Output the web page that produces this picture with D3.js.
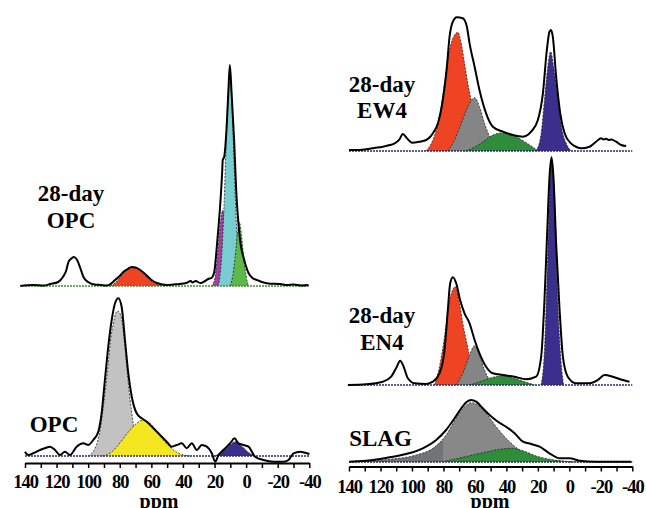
<!DOCTYPE html>
<html>
<head>
<meta charset="utf-8">
<script src="https://cdn.jsdelivr.net/npm/d3@7"></script>
<style>
  body { margin: 0; background: #fff; }
  svg text { font-family: "Liberation Serif", "Times New Roman", serif; font-weight: bold; fill: #000; }
</style>
</head>
<body>
<svg width="646" height="508"></svg>
<script>
// chemical shift ticks (ppm)
var ppmTicks = d3.range(140, -41, -10);

// ---- 28-day OPC : [ppm, intensity a.u.]
var opc28Spectrum = [[143,0],[135,1],[128,0.5],[124,2],[119,4],[116,9],[114,15],[112.5,24],[111,27],[109,29],[107,26],[105,18],
  [103,9],[100,4],[96,1.5],[92,1],[88,0.5],[85,3],[83,6],[80,10],[77.8,14],[75,17],[72.4,19],[70,18.5],[67,16],[64,12],
  [62,9],[59,5],[56.5,3],[53,1.5],[50,1],[46,1.5],[42,2],[38,3],[35,5],[34,3.5],[32,5],[29,3],[26,5],[24,7],[22,8],
  [20.3,13],[18.2,46],[16.5,79],[15.2,113],[14.8,126],[13.9,129],[12.2,163],[11.2,196],[10.3,221],[9.3,196],[7.6,146],
  [6.3,96],[4.9,63],[3.3,40],[1.7,29],[-1.5,13],[-4,8],[-6.8,6],[-10,4],[-14,2.5],[-21.5,2],[-26,1],[-30,1.5],[-35,0.5],[-39.5,1]];
var opc28Red = [[86,0],[83,3],[80,8],[77,14],[74.5,18],[72.4,19],[70,18],[67,15],[64,10.5],[61,6],[58,3],[55,1],[52,0]];
var opc28Magenta = [[22,0],[20,6],[18.5,25],[17,52],[15.5,72],[15,76],[14,70],[12.5,45],[11,20],[9.5,6],[8,0]];
var opc28Cyan = [[18,0],[16.9,6],[15.5,30],[14,80],[12.5,150],[11.3,195],[10.3,204],[9.3,192],[8.2,150],[7,95],[5.8,50],[4.5,20],[3,5],[1.5,0]];
var opc28Green = [[10.1,0],[8.5,10],[7,28],[5.5,52],[4.3,64],[3,52],[1.5,28],[0,10],[-1.5,0]];

// ---- unhydrated OPC
var opcSpectrum = [[140,4.3],[138,1],[134.8,2.7],[130.5,6],[127,8],[124.2,9.3],[121,6],[117.9,1],[114.7,4.3],[111.5,1],
  [107.3,9.3],[103.1,12.7],[99.9,11],[96.8,16],[93.6,24.3],[91.5,42.7],[89.4,76],[87.3,109],[85.1,136],[83,152.7],
  [80.9,157.7],[78.8,149],[76.7,116],[74.6,82.7],[72.4,59.3],[69.3,42.7],[66.1,37.7],[62.9,34.3],[58.7,27.7],[54.5,21],
  [50.3,14.3],[47.1,9.3],[43.9,11],[40.7,12.7],[37.6,7.7],[34.4,12.7],[31.2,6],[28.1,11],[24.9,9.3],[21.7,2.7],[19.6,-5.7],
  [17.5,1],[14.4,6],[10.1,12.7],[7.3,17.7],[4.9,12.7],[1.7,11],[-1.5,9.3],[-5.7,-0.7],[-11,-4],[-17.3,-5.7],[-23.6,-5.7],
  [-26.8,-4],[-30,2.7],[-34.2,4.3],[-37.4,3.3],[-40.1,2]];
var opcGray = [[100,0],[97,4],[94,15],[92,30],[90.4,49],[88.5,75],[87.3,93],[85.5,120],[84,133],[82.5,143],[81.3,145],
  [80,143],[78.8,137],[76.7,109],[74.6,73],[72.4,43],[70.5,22],[68.5,9],[66.5,3],[64,0]];
var opcYellow = [[91,0],[86,3],[82,9],[78,17],[73.5,26],[69.3,32.7],[65.1,36],[62,34],[58.7,29.3],[55.5,22],[52.4,16],
  [49,10],[46,6],[43,3],[39.7,1],[35.5,0]];
var opcBlue = [[19.6,0],[17,2.5],[14.4,5],[12,8.5],[10.1,11],[7,14.3],[5,13],[3.8,11],[1.5,8],[-0.4,5],[-3,2],[-5.7,0]];

// ---- 28-day EW4
var ew4Spectrum = [[140,1],[133,1],[129.1,1.7],[124,3],[118.5,4.3],[114,6],[111,7.7],[107.9,11.7],[105.8,17],[103.2,12.7],
  [99.9,8.3],[95.2,9.3],[91,11],[88.5,14],[86.7,17.7],[83.5,27.7],[80.4,51],[77.8,84.3],[76.1,114.3],[74,129.3],[71.5,133.7],
  [67.7,132.7],[65.1,124.3],[63.4,107.7],[60.2,84.3],[57.1,61],[52.9,37.7],[48.6,24.3],[42.2,19.3],[35.9,16],[29.5,14.3],
  [24.3,19.3],[20,31],[16.8,57.7],[14.3,101],[12.6,119.3],[11.6,121],[10.5,114.3],[8.4,74.3],[5.8,37.7],[3,17.7],[-1,7.7],
  [-4.5,4],[-7.5,2.7],[-12.8,4.3],[-17,9.3],[-20.2,12.7],[-21.8,11.5],[-23.4,12.2],[-25,11],[-26.6,11.5],[-29.7,9.3],
  [-32.9,6],[-36.1,5]];
var ew4Red = [[91,0],[86.7,11],[82.5,34.3],[79.3,67.7],[76.1,101],[72.9,116],[70.8,118.7],[68.7,107.7],[66.6,87.7],
  [64.5,67.7],[62.4,51],[59.2,31],[56,14.3],[52.9,4.3],[50.8,0]];
var ew4Gray = [[77.2,0],[72.9,11],[68.7,27.7],[64.5,44.3],[60.2,53.3],[57.1,44.3],[53.9,27.7],[50.7,14.3],[47.5,4.3],[44.3,0]];
var ew4Green = [[66,0],[60,4],[55,9],[48.6,16],[41.2,18.3],[33.8,14.3],[27.4,8.3],[22.1,2.7],[19.9,0]];
var ew4Blue = [[21.1,0],[17.9,17.7],[15.8,51],[13.7,84.3],[11.9,99.3],[10,84.3],[7.3,51],[4.6,21],[2,7.7],[-1.1,0]];

// ---- 28-day EN4
var en4Spectrum = [[140.7,0],[129.1,0.7],[118.5,3.3],[113.2,8.3],[109.6,18.3],[107.5,24.3],[105.3,18.3],[102.6,6.7],
  [98.3,1.7],[91,1],[86.7,3.3],[82.5,11.7],[79.3,35],[77.2,75],[75.7,101.7],[74,107.7],[71.9,101.7],[69.4,85],[66.6,71.7],
  [63.4,61.7],[60.2,45],[57.1,31.7],[52.9,18.3],[48.6,11.7],[42.2,10],[34.8,8.3],[27.4,5.7],[21.1,8.3],[17.9,28.3],
  [15.8,85],[14.1,151.7],[12.6,208.3],[11.3,227.7],[10,205],[8.4,141.7],[6.2,75],[4.1,28.3],[1,8.3],[-4.3,1.7],
  [-12.8,1.7],[-18.1,5],[-22.4,10],[-27.6,8.3],[-34,5],[-38.2,3.3]];
var en4Red = [[85.7,0],[82.5,18.3],[79.3,48.3],[76.1,85],[72.3,98.3],[69.8,81.7],[67.7,61.7],[65.1,41.7],[62.4,21.7],[59.2,5],[57.1,0]];
var en4Gray = [[71.9,0],[67.7,11.7],[63.4,30],[60.2,39.3],[57.1,30],[53.9,15],[50.7,5],[48.6,0]];
var en4Green = [[63.4,0],[55,4.3],[48.6,7.7],[42.2,9.3],[34.8,6.7],[27.4,2.7],[22.1,0]];
var en4Blue = [[17.9,0],[15.8,35],[14.3,101.7],[13,168.3],[11.9,215],[11.1,225],[10.3,215],[9,168.3],[7.8,101.7],[5.8,35],[3.7,0]];

// ---- SLAG
var slagSpectrum = [[139.7,0.3],[124.8,2],[114.2,4.7],[103.7,8],[93.1,13.7],[84.6,22],[78.3,32],[72.9,43.7],[68.7,53.7],
  [65.1,60.3],[62.4,62],[59.2,60.3],[55,53.7],[50.7,47],[45.4,40.3],[40.2,35.3],[34.8,28.7],[29.5,20.3],[24.3,18],
  [18.9,15.3],[12.6,8.7],[6.2,3.7],[-0.1,3.7],[-6.5,1.3],[-17,0.3],[-39.3,0.3]];
var slagGray = [[139.7,0.3],[114.2,2.7],[97.3,7],[86.7,13.7],[78.3,27],[71.9,43.7],[66.6,55.3],[62.4,59.3],[58.1,57],
  [52.9,48.7],[46.5,35.3],[40.2,23.7],[31.6,12],[23.2,5.3],[12.6,2],[-0.1,0.3],[-10,0]];
var slagGreen = [[80.4,0.3],[67.7,4.7],[55,9.3],[44.3,12.7],[37,13.7],[29.5,11.3],[21.1,6],[12.6,2.7],[4.1,1],[-2.2,0]];

var svg = d3.select("svg");

var xLeft = d3.scaleLinear().domain([140, -40]).range([25, 309.3]);
var xRight = d3.scaleLinear().domain([140, -40]).range([349, 632.3]);

// hard-edged gray for the slag fit (darker on the high-ppm side)
var grad = svg.append("defs").append("linearGradient")
    .attr("id", "slagGrad")
    .attr("gradientUnits", "userSpaceOnUse")
    .attr("x1", xRight(140)).attr("x2", xRight(-40))
    .attr("y1", 0).attr("y2", 0);
var cut = (xRight(80) - xRight(140)) / (xRight(-40) - xRight(140));
grad.append("stop").attr("offset", 0).attr("stop-color", "#6f7474");
grad.append("stop").attr("offset", cut).attr("stop-color", "#6f7474");
grad.append("stop").attr("offset", cut).attr("stop-color", "#888888");
grad.append("stop").attr("offset", 1).attr("stop-color", "#888888");

var panels = [
  {x: xLeft, base: 286, spectrum: opc28Spectrum, baseColor: "#3c8c3c",
   fits: [[opc28Red, "#ef4423"], [opc28Magenta, "#a0409f"], [opc28Cyan, "#78cdd0"], [opc28Green, "#5cb848"]],
   label: ["28-day", "OPC"], lx: 71, ly: [200.5, 228.3]},
  {x: xLeft, base: 456, spectrum: opcSpectrum, baseColor: "#2b2b6b",
   fits: [[opcGray, "#c2c2c2"], [opcYellow, "#f4e620"], [opcBlue, "#3b2f8e"]],
   label: ["OPC"], lx: 54, ly: [431.7]},
  {x: xRight, base: 151, spectrum: ew4Spectrum, baseColor: "#2b2b6b",
   fits: [[ew4Red, "#ef4423"], [ew4Gray, "#858585"], [ew4Green, "#2f8c3a"], [ew4Blue, "#3b2f8e"]],
   label: ["28-day", "EW4"], lx: 382, ly: [91.7, 118.3]},
  {x: xRight, base: 385, spectrum: en4Spectrum, baseColor: "#2b2b6b",
   fits: [[en4Red, "#ef4423"], [en4Gray, "#858585"], [en4Green, "#2f8c3a"], [en4Blue, "#3b2f8e"]],
   label: ["28-day", "EN4"], lx: 382, ly: [322.7, 350]},
  {x: xRight, base: 462, spectrum: slagSpectrum, baseColor: "#2b2b4b",
   fits: [[slagGray, "url(#slagGrad)"], [slagGreen, "#2f8c3a"]],
   label: ["SLAG"], lx: 380.5, ly: [445.7]}
];

panels.forEach(function(p) {
  var y = d3.scaleLinear().domain([0, 100]).range([p.base, p.base - 100]);
  var g = svg.append("g");

  var area = d3.area()
      .x(function(d) { return p.x(d[0]); })
      .y0(y(0))
      .y1(function(d) { return y(d[1]); })
      .curve(d3.curveMonotoneX);
  var line = d3.line()
      .x(function(d) { return p.x(d[0]); })
      .y(function(d) { return y(d[1]); })
      .curve(d3.curveMonotoneX);

  // fitted components
  p.fits.forEach(function(f) {
    g.append("path").datum(f[0])
      .attr("d", area)
      .attr("fill", f[1]);
    g.append("path").datum(f[0])
      .attr("d", line)
      .attr("fill", "none")
      .attr("stroke", "#222")
      .attr("stroke-width", 0.8)
      .attr("stroke-dasharray", "2,1.5");
  });

  // zero line
  g.append("line")
    .attr("x1", p.x(140)).attr("x2", p.x(-40))
    .attr("y1", y(0)).attr("y2", y(0))
    .attr("stroke", p.baseColor)
    .attr("stroke-width", 1.5)
    .attr("stroke-dasharray", "2,1");

  // measured spectrum
  g.append("path").datum(p.spectrum)
    .attr("d", line)
    .attr("fill", "none")
    .attr("stroke", "#000")
    .attr("stroke-width", 2)
    .attr("stroke-linejoin", "round");

  g.selectAll("text.lab").data(p.label).enter().append("text")
    .attr("class", "lab")
    .attr("x", p.lx)
    .attr("y", function(d, i) { return p.ly[i]; })
    .attr("text-anchor", "middle")
    .style("font-size", "23px")
    .text(function(d) { return d; });
});

// x axes
function drawAxis(x, yPos, pad, ppmX) {
  var axis = d3.axisBottom(x)
      .tickValues(ppmTicks)
      .tickSize(5)
      .tickSizeOuter(0)
      .tickPadding(pad)
      .tickFormat(function(d) { return d % 20 === 0 ? String(d) : ""; });
  var ax = svg.append("g")
      .attr("transform", "translate(0," + yPos + ")")
      .call(axis);
  ax.select(".domain").attr("stroke", "#000").attr("stroke-width", 2);
  ax.selectAll(".tick line").attr("stroke", "#000").attr("stroke-width", 1.5);
  ax.selectAll(".tick text")
    .attr("fill", "#000")
    .style("font-family", "'Liberation Serif', 'Times New Roman', serif")
    .style("font-weight", "bold")
    .style("font-size", "18.5px")
    .style("letter-spacing", "-1px");
  svg.append("text")
    .attr("x", ppmX)
    .attr("y", 507.5)
    .attr("text-anchor", "middle")
    .style("font-size", "20px")
    .text("ppm");
}
drawAxis(xLeft, 463, 6.5, 159);
drawAxis(xRight, 466.5, 8, 490);
</script>
</body>
</html>
